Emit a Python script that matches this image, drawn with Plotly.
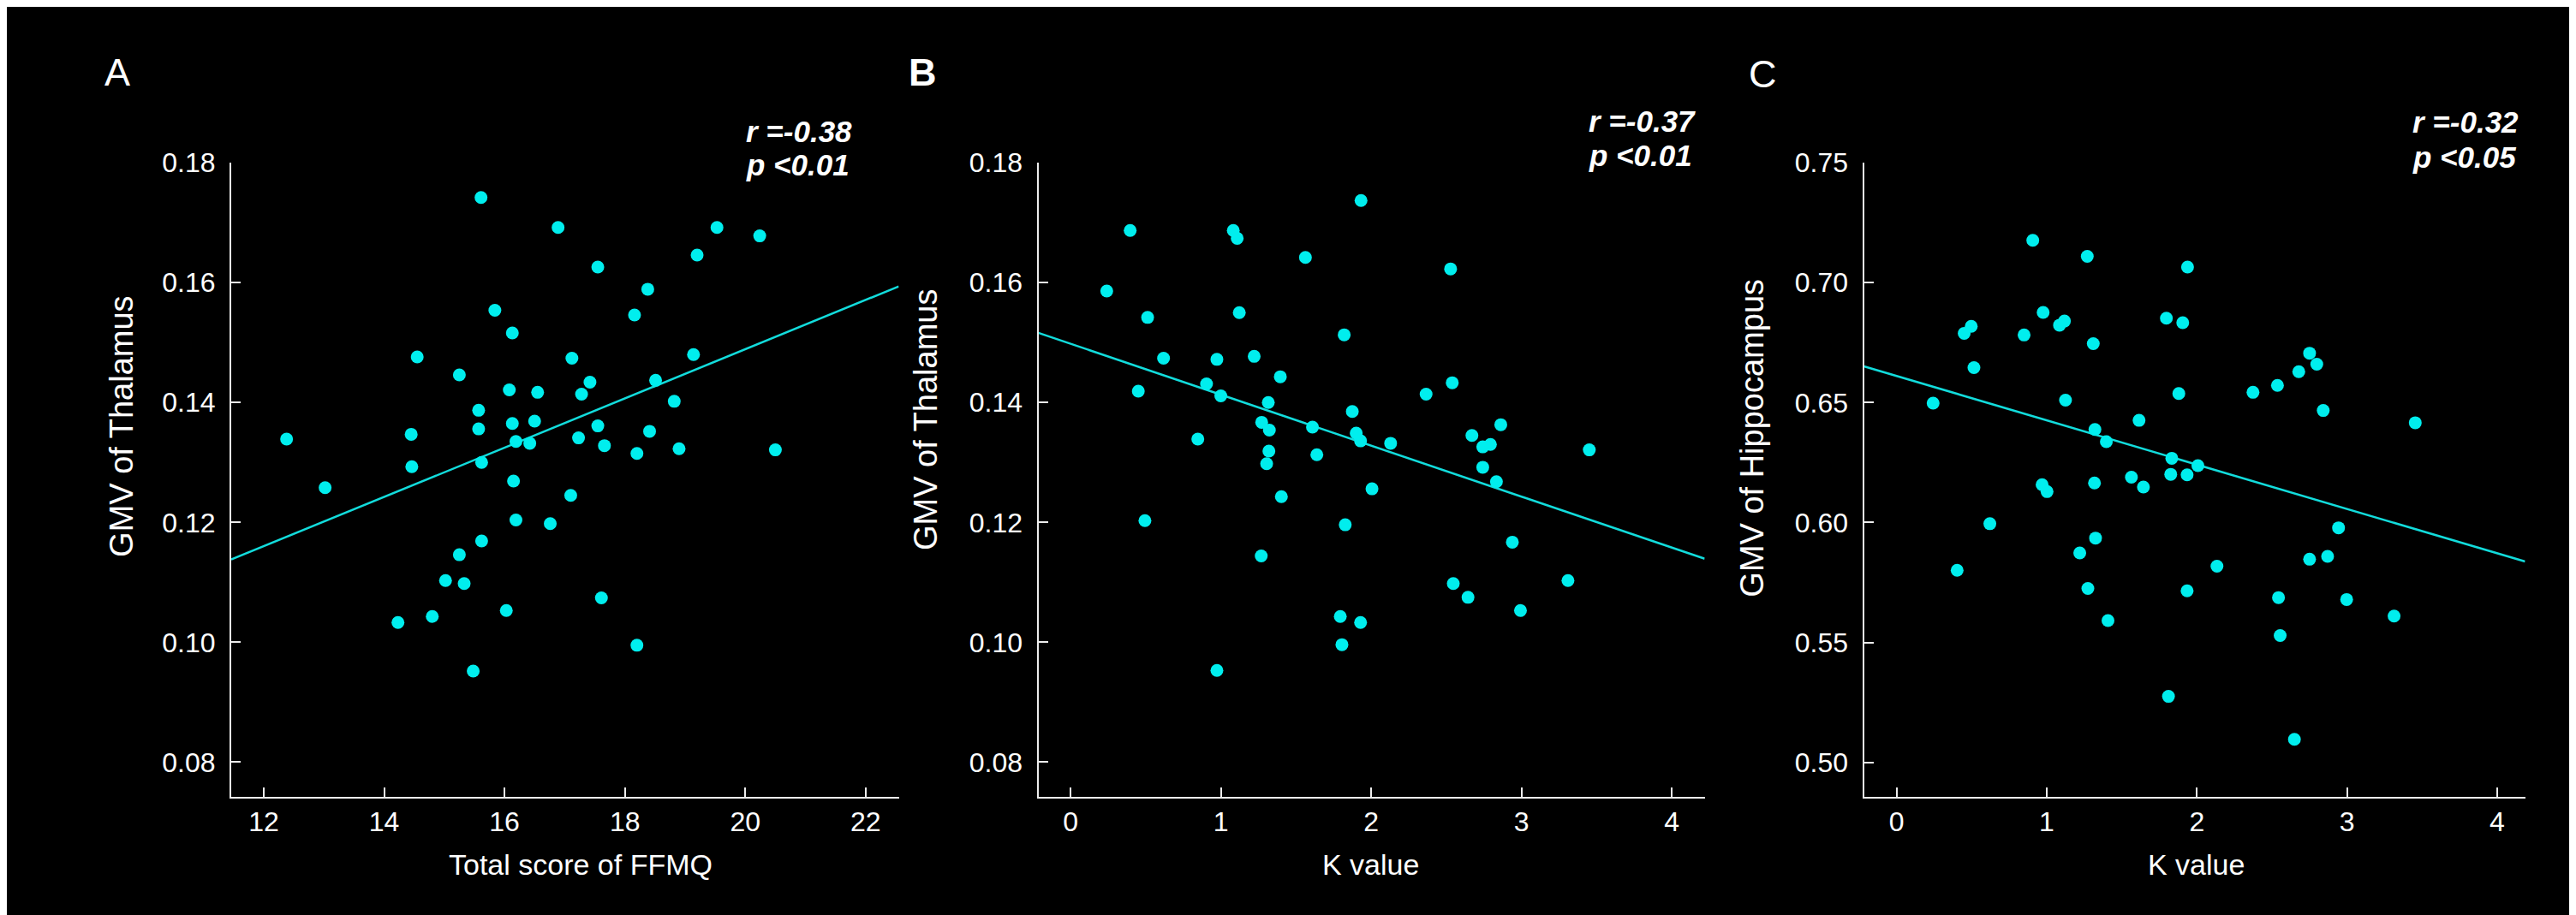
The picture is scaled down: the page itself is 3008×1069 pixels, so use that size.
import plotly.graph_objects as go
from plotly.subplots import make_subplots

# data

# panel A: total FFMQ score vs thalamus GMV
ffmq_a = [15.61, 16.89, 19.53, 20.24, 19.20, 17.55, 18.38, 15.84, 18.16, 16.13,
          14.55, 17.12, 19.14, 15.25, 16.08, 16.55, 17.42, 17.28, 18.51, 18.82,
          15.57, 15.57, 16.13, 16.50, 14.45, 12.38, 16.19, 16.42, 17.55, 17.23,
          17.66, 18.41, 18.20, 18.90, 20.50, 14.46, 15.62, 13.02, 16.15, 17.10,
          16.19, 16.76, 15.62, 15.25, 15.02, 15.33, 17.61, 16.03, 14.80, 14.23,
          18.20, 15.48]
thal_a = [0.1742, 0.1692, 0.1692, 0.1678, 0.1646, 0.1626, 0.1589, 0.1554, 0.1546, 0.1516,
          0.1476, 0.1474, 0.1480, 0.1446, 0.1421, 0.1417, 0.1434, 0.1414, 0.1437, 0.1402,
          0.1387, 0.1356, 0.1365, 0.1369, 0.1347, 0.1339, 0.1335, 0.1332, 0.1361, 0.1341,
          0.1328, 0.1352, 0.1315, 0.1323, 0.1321, 0.1293, 0.1300, 0.1258, 0.1269, 0.1245,
          0.1204, 0.1198, 0.1169, 0.1146, 0.1103, 0.1098, 0.1074, 0.1053, 0.1043, 0.1033,
          0.0995, 0.0952]

# panel B: K value vs thalamus GMV
k_b = [1.932, 0.396, 1.082, 1.108, 1.562, 2.528, 0.240, 0.512, 1.122, 1.820,
       0.618, 0.973, 1.221, 1.395, 2.539, 0.904, 0.450, 0.999, 2.365, 1.315,
       1.874, 1.271, 1.322, 1.609, 1.900, 1.929, 2.670, 2.862, 0.846, 2.129,
       2.742, 2.793, 3.451, 1.319, 1.638, 1.304, 2.742, 2.833, 2.005, 1.402,
       0.494, 1.827, 2.939, 1.268, 3.309, 2.546, 2.644, 2.993, 1.794, 1.929,
       1.805, 0.973]
thal_b = [0.1737, 0.1687, 0.1687, 0.1674, 0.1642, 0.1623, 0.1586, 0.1542, 0.1550, 0.1513,
          0.1474, 0.1472, 0.1477, 0.1443, 0.1433, 0.1431, 0.1419, 0.1411, 0.1414, 0.1400,
          0.1385, 0.1367, 0.1354, 0.1359, 0.1349, 0.1336, 0.1345, 0.1363, 0.1339, 0.1332,
          0.1326, 0.1330, 0.1321, 0.1319, 0.1313, 0.1298, 0.1292, 0.1268, 0.1256, 0.1243,
          0.1203, 0.1196, 0.1167, 0.1144, 0.1103, 0.1098, 0.1075, 0.1053, 0.1043, 0.1033,
          0.0996, 0.0953]

# panel C: K value vs hippocampus GMV
k_c = [0.907, 1.270, 1.938, 0.976, 1.797, 1.906, 1.085, 1.118, 0.450, 0.497,
       0.849, 1.310, 2.751, 2.799, 2.679, 0.515, 2.537, 2.374, 1.880, 0.243,
       1.125, 2.842, 1.615, 3.455, 1.321, 1.397, 1.833, 2.007, 1.826, 1.935,
       1.564, 0.969, 1.002, 1.318, 1.644, 0.621, 2.944, 1.325, 1.220, 2.751,
       2.871, 2.134, 0.403, 1.274, 1.935, 2.544, 2.998, 3.314, 1.408, 2.555,
       1.811, 2.650]
hipp_c = [0.7177, 0.7110, 0.7065, 0.6876, 0.6852, 0.6833, 0.6823, 0.6840, 0.6789, 0.6818,
          0.6782, 0.6746, 0.6706, 0.6660, 0.6629, 0.6646, 0.6572, 0.6543, 0.6538, 0.6498,
          0.6510, 0.6467, 0.6426, 0.6416, 0.6388, 0.6337, 0.6268, 0.6237, 0.6201, 0.6199,
          0.6189, 0.6158, 0.6129, 0.6165, 0.6148, 0.5995, 0.5978, 0.5935, 0.5873, 0.5847,
          0.5859, 0.5818, 0.5801, 0.5725, 0.5715, 0.5687, 0.5679, 0.5610, 0.5591, 0.5529,
          0.5275, 0.5096]

# fitted lines (intercept, slope) as drawn
fit_a = (0.0667, 0.00411)
fit_b = (0.1498, -0.0085)
fit_c = (0.6611, -0.01848)

x_ranges = [(11.46, 22.55), (-0.215, 4.219), (-0.218, 4.187)]
y_ranges = [(0.0742, 0.18), (0.0742, 0.18), (0.4856, 0.75)]
x_ticks = [[12, 14, 16, 18, 20, 22], [0, 1, 2, 3, 4], [0, 1, 2, 3, 4]]
y_ticks = [[0.08, 0.10, 0.12, 0.14, 0.16, 0.18],
           [0.08, 0.10, 0.12, 0.14, 0.16, 0.18],
           [0.50, 0.55, 0.60, 0.65, 0.70, 0.75]]
y_ticktext = [["0.08", "0.10", "0.12", "0.14", "0.16", "0.18"],
              ["0.08", "0.10", "0.12", "0.14", "0.16", "0.18"],
              ["0.50", "0.55", "0.60", "0.65", "0.70", "0.75"]]

panel_labels = ["A", "B", "C"]
x_titles = ["Total score of FFMQ", "K value", "K value"]
y_titles = ["GMV of Thalamus", "GMV of Thalamus", "GMV of Hippocampus"]
r_texts = ["r =-0.38", "r =-0.37", "r =-0.32"]
p_texts = ["p <0.01", "p <0.01", "p <0.05"]

# layout (pixels)
W, H = 3008, 1069
FONT = "Liberation Sans, Arial, sans-serif"
DOT = "#00EEEE"
LINE = "#12DCDC"
AXIS = "#EDEDED"

def px(x):
  return x / W

def py(y):
  return 1 - y / H

plot_left = [262, 1204.5, 2168.5]
plot_right = [1041.5, 1982.6, 2940.6]
plot_top, plot_bottom = 167, 920.5

fig = make_subplots(rows=1, cols=3)

series = [(ffmq_a, thal_a, fit_a), (k_b, thal_b, fit_b), (k_c, hipp_c, fit_c)]
for i, (xs, ys, fit) in enumerate(series):
  col = i + 1
  x0, x1 = x_ranges[i]
  fig.add_trace(go.Scatter(x=[x0, x1], y=[fit[0] + fit[1] * x0, fit[0] + fit[1] * x1],
                           mode="lines", line=dict(color=LINE, width=2.5),
                           hoverinfo="skip", showlegend=False), row=1, col=col)
  fig.add_trace(go.Scatter(x=xs, y=ys, mode="markers",
                           marker=dict(color=DOT, size=15, line=dict(width=0)),
                           showlegend=False), row=1, col=col)

  axis_common = dict(showline=True, linecolor=AXIS, linewidth=2, mirror=False,
                     showgrid=False, zeroline=False, ticks="inside", ticklen=11,
                     tickwidth=2, tickcolor=AXIS,
                     tickfont=dict(family=FONT, size=32, color="white"))
  fig.update_xaxes(range=list(x_ranges[i]), tickvals=x_ticks[i],
                   domain=[px(plot_left[i]), px(plot_right[i])],
                   ticklabelstandoff=0, row=1, col=col, **axis_common)
  fig.update_yaxes(range=list(y_ranges[i]), tickvals=y_ticks[i], ticktext=y_ticktext[i],
                   domain=[py(plot_bottom), py(plot_top)],
                   ticklabelstandoff=10, row=1, col=col, **axis_common)

annotations = []
# text centres in pixels (vertical values already lifted to offset plotly's text box)
label_x = [129, 1069.5, 2050]
label_y = [60, 60, 62]
ytitle_x = [134, 1073, 2038]
ytitle_y = [480, 472, 494]
xtitle_x = [670, 1592, 2556]
xtitle_y = 1001
stat_x = [861, 1845, 2807]
r_y = [130, 117, 118]
p_y = [169, 158, 160]

def note(text, x, y, size, xanchor="center", angle=0, **font):
  return dict(text=text, x=px(x), y=py(y), xref="paper", yref="paper",
              xanchor=xanchor, yanchor="middle", showarrow=False, textangle=angle,
              font=dict(family=FONT, size=size, color="white", **font))

for i in range(3):
  annotations.append(note(panel_labels[i], label_x[i], label_y[i], 45,
                          weight="bold" if i == 1 else "normal"))
  annotations.append(note(y_titles[i], ytitle_x[i], ytitle_y[i], 38, angle=-90))
  annotations.append(note(x_titles[i], xtitle_x[i], xtitle_y, 34))
  for txt, yy in ((r_texts[i], r_y[i]), (p_texts[i], p_y[i])):
    annotations.append(note(txt, stat_x[i], yy, 35, xanchor="left",
                            weight="bold", style="italic"))

fig.update_layout(width=W, height=H, margin=dict(l=0, r=0, t=0, b=0),
                  paper_bgcolor="black", plot_bgcolor="black",
                  annotations=annotations, showlegend=False)

fig.write_html("out.html")
